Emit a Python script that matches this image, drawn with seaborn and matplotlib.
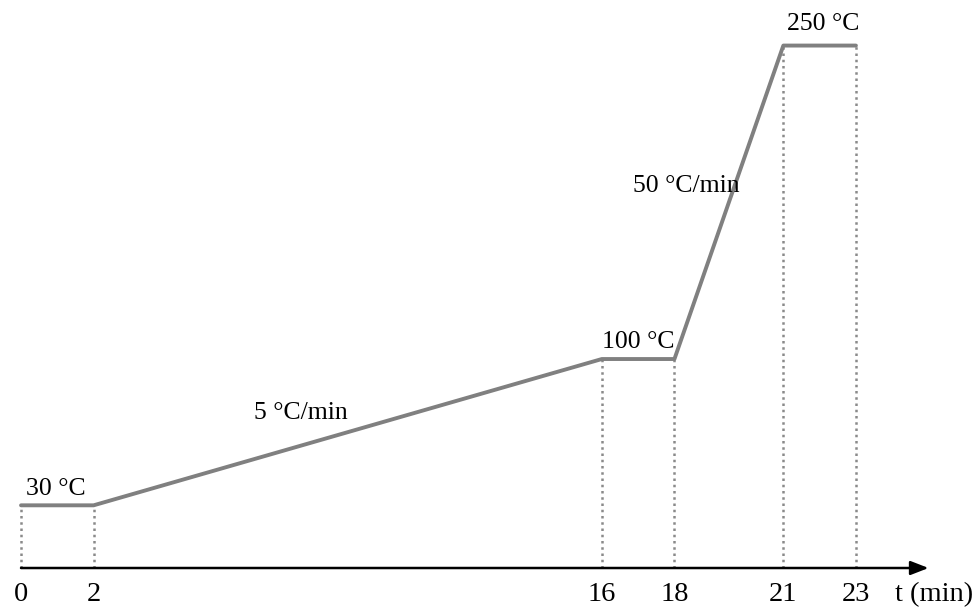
import matplotlib
matplotlib.use("Agg")
import matplotlib.pyplot as plt
import seaborn as sns
import pandas as pd

# Oven temperature program
time_min = [0, 2, 16, 18, 21, 23]
temp_c = [30, 30, 100, 100, 250, 250]
tick_labels = ["0", "2", "16", "18", "21", "23"]
temp_labels = ["30 \u00b0C", "100 \u00b0C", "250 \u00b0C"]
rate_labels = ["5 \u00b0C/min", "50 \u00b0C/min"]

sns.set_theme(style="white")
plt.rcParams["font.family"] = ["Liberation Serif", "DejaVu Serif"]

df = pd.DataFrame({"t": time_min, "T": temp_c})

fig = plt.figure(figsize=(9.79, 6.12), dpi=100)
ax = fig.add_axes([0, 0, 1, 1])
ax.set_xlim(-0.579, 26.39)
ax.set_ylim(-21.05, 271.8)
ax.axis("off")

grey = "#808080"
# dotted drop lines from each program step to the time axis
for t, T in zip(time_min, temp_c):
    ax.plot([t, t], [0, T], color="#8a8a8a", lw=1.8, ls=(0, (1, 1.5)), zorder=1)

sns.lineplot(data=df, x="t", y="T", color=grey, lw=2.8, ax=ax,
             estimator=None, sort=False, zorder=3)

# time axis with arrow head
ax.annotate("", xy=(25.0, 0), xytext=(0, 0),
            arrowprops=dict(arrowstyle="-|>,head_length=0.9,head_width=0.35",
                            color="black", lw=1.8, shrinkA=0, shrinkB=0),
            zorder=2)

for t, lab in zip(time_min, tick_labels):
    ax.text(t, -12.9, lab, ha="center", va="center", fontsize=20.5, color="black")
ax.text(26.23, -12.9, "t (min)", ha="right", va="center", fontsize=20.5, color="black")

ax.text(0.15, 38, temp_labels[0], ha="left", va="center", fontsize=18.5, color="black")
ax.text(16.0, 108, temp_labels[1], ha="left", va="center", fontsize=18.5, color="black")
ax.text(21.1, 260.5, temp_labels[2], ha="left", va="center", fontsize=18.5, color="black")
ax.text(7.7, 74, rate_labels[0], ha="center", va="center", fontsize=18.5, color="black")
ax.text(16.86, 183, rate_labels[1], ha="left", va="center", fontsize=18.5, color="black")

fig.savefig("out.png", dpi=100)
